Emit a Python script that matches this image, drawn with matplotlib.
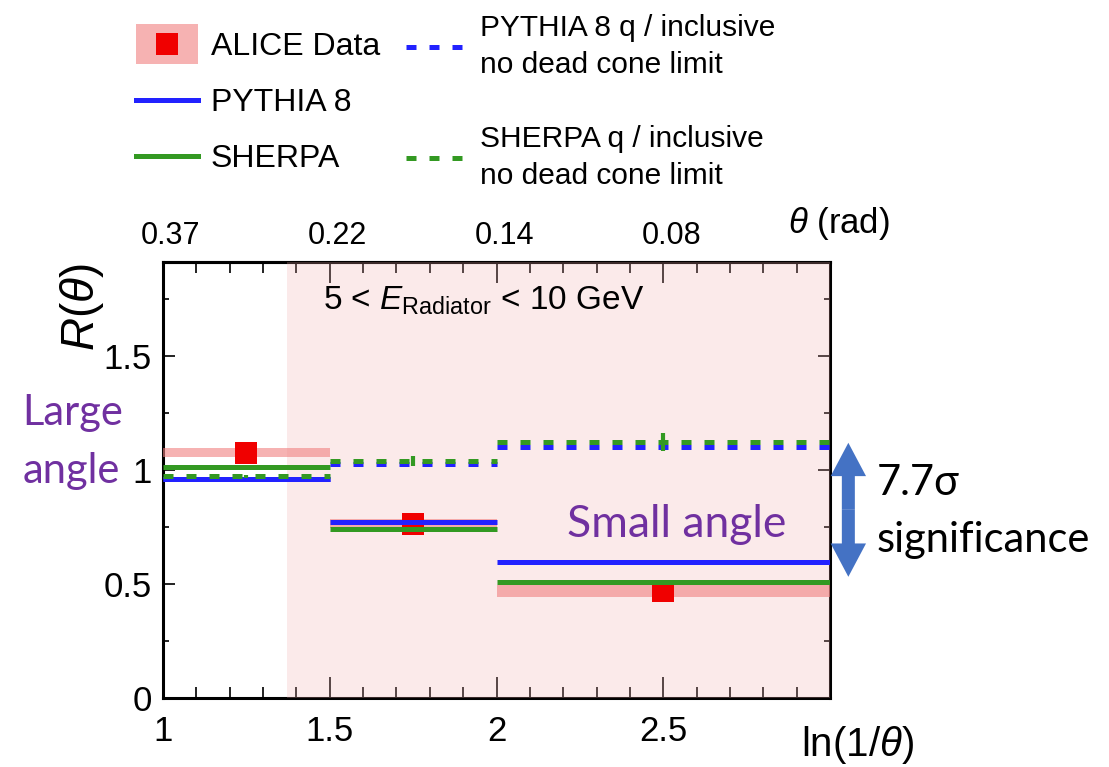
import numpy as np
import matplotlib.pyplot as plt
import matplotlib.transforms as mtransforms
from matplotlib.patches import Patch, FancyArrow, Rectangle
from matplotlib.lines import Line2D
from matplotlib.legend_handler import HandlerPatch
from matplotlib.ticker import FixedLocator, MultipleLocator

plt.rcParams['font.family'] = ['Liberation Sans', 'DejaVu Sans']
plt.rcParams['mathtext.fontset'] = 'custom'
plt.rcParams['mathtext.rm'] = 'Liberation Sans'
plt.rcParams['mathtext.it'] = 'Liberation Sans:italic'
plt.rcParams['mathtext.bf'] = 'Liberation Sans:bold'

# ---- data ----
bin_edges = np.array([1.0, 1.5, 2.0, 3.0])
alice = np.array([1.075, 0.763, 0.467])
alice_syst = np.array([0.018, 0.020, 0.026])
pythia = np.array([0.959, 0.773, 0.594])
sherpa = np.array([1.014, 0.741, 0.507])
pythia_q = np.array([0.960, 1.026, 1.099])
sherpa_q = np.array([0.971, 1.038, 1.123])
sherpa_q_err = np.array([0.008, 0.020, 0.040])

x_ticks = [1, 1.5, 2, 2.5]
x_ticklabels = ['1', '1.5', '2', '2.5']
theta_ticklabels = ['0.37', '0.22', '0.14', '0.08']
y_ticks = [0, 0.5, 1, 1.5]
y_ticklabels = ['0', '0.5', '1', '1.5']
shade_start = 1.372          # start of the "small angle" shaded region
arrow_top, arrow_bottom = 1.118, 0.531

blue = '#2222FF'
green = '#339922'
red = '#F00000'
band = '#F08080'
purple = '#7030A0'
arrow_col = '#4472C4'
lw = 3.6
dash = (0, (2.0, 2.6))

W, H = 1109, 767
fig = plt.figure(figsize=(W / 100, H / 100), dpi=100)
ax = fig.add_axes([163 / W, 1 - 698 / H, (830 - 163) / W, (698 - 262) / H])

centers = 0.5 * (bin_edges[:-1] + bin_edges[1:])
widths = np.diff(bin_edges)

# pink overlay of the small-angle region
ax.axvspan(shade_start, bin_edges[-1], color='#F3AEAE', alpha=0.25, lw=0, zorder=2.7)

# ALICE data: systematic band + marker
ax.bar(bin_edges[:-1], 2 * alice_syst, width=widths, bottom=alice - alice_syst,
       align='edge', color=band, alpha=0.6, linewidth=0, zorder=3)
ax.plot(centers, alice, 's', color=red, ms=16, mew=0, zorder=3.5)

# MC predictions
ax.hlines(pythia, bin_edges[:-1], bin_edges[1:], colors=blue, lw=lw,
          capstyle='butt', zorder=4)
ax.hlines(sherpa, bin_edges[:-1], bin_edges[1:], colors=green, lw=lw,
          capstyle='butt', zorder=4)
ax.hlines(pythia_q, bin_edges[:-1], bin_edges[1:], colors=blue, lw=lw,
          linestyles=[dash], capstyle='butt', zorder=4.2)
ax.hlines(sherpa_q, bin_edges[:-1], bin_edges[1:], colors=green, lw=lw,
          linestyles=[dash], capstyle='butt', zorder=4.3)
ax.errorbar(centers, sherpa_q, yerr=sherpa_q_err, fmt='none', ecolor=green,
            elinewidth=3, capsize=0, zorder=4.4)

# axes / ticks
ax.set_xlim(bin_edges[0], bin_edges[-1])
ax.set_ylim(0, 1.91)
ax.xaxis.set_major_locator(FixedLocator(x_ticks))
ax.set_xticklabels(x_ticklabels)
ax.xaxis.set_minor_locator(MultipleLocator(0.1))
ax.yaxis.set_major_locator(FixedLocator(y_ticks))
ax.set_yticklabels(y_ticklabels)
ax.yaxis.set_minor_locator(MultipleLocator(0.25))
ax.tick_params(axis='both', which='both', direction='in', color='#222222', width=1.4)
ax.tick_params(axis='x', which='major', length=15, pad=12, labelsize=25, top=False)
ax.tick_params(axis='x', which='minor', length=8, top=False)
ax.tick_params(axis='y', which='major', length=8.6, pad=8, labelsize=25, right=True)
ax.tick_params(axis='y', which='minor', length=4.3, right=True)
for s in ax.spines.values():
    s.set_linewidth(2.2)

secax = ax.secondary_xaxis('top')
secax.set_xticks(x_ticks, labels=theta_ticklabels)
secax.xaxis.set_minor_locator(MultipleLocator(0.1))
secax.tick_params(which='both', direction='in', color='#222222', width=1.4)
secax.tick_params(which='major', length=15, pad=8, labelsize=22)
secax.tick_params(which='minor', length=8)
secax.spines['top'].set_linewidth(2.2)
shift = mtransforms.ScaledTranslation(8 / 100, 0, fig.dpi_scale_trans)
for lab in secax.get_xticklabels():
    lab.set_transform(lab.get_transform() + shift)

# axis titles
fig.text(82 / W, 1 - 307 / H, r'$R(\theta)$', rotation=90, fontsize=33,
         ha='center', va='center')
fig.text(801 / W, 1 - 745 / H, r'ln(1/$\theta$)', fontsize=29, ha='left', va='center')
fig.text(788 / W, 1 - 224 / H, r'$\theta$ (rad)', fontsize=25, ha='left', va='center')
ax.text(1.48, 1.70, r'5 < $E_{\mathrm{Radiator}}$ < 10 GeV', fontsize=24,
        va='baseline', zorder=6)

# annotations
ann_font = ['Lato', 'DejaVu Sans']
ax.text(0.578, 1.197, 'Large', family=ann_font, fontsize=30, color=purple, va='baseline')
ax.text(0.578, 0.943, 'angle', family=ann_font, fontsize=30, color=purple, va='baseline')
ax.text(2.211, 0.706, 'Small angle', family=ann_font, fontsize=32, color=purple,
        va='baseline', zorder=6)
ax.text(3.141, 0.890, '7.7σ', family=ann_font, fontsize=30, va='baseline')
ax.text(3.141, 0.640, 'significance', family=ann_font, fontsize=30, va='baseline')

mid = 0.5 * (arrow_top + arrow_bottom)
for tip in (arrow_top, arrow_bottom):
    ax.add_patch(FancyArrow(3.055, mid, 0, tip - mid, width=0.039, head_width=0.106,
                            head_length=0.146, length_includes_head=True,
                            color=arrow_col, lw=0, clip_on=False, zorder=6))


# legends
def band_box(legend, orig_handle, xdescent, ydescent, width, height, fontsize):
    # pink box of fixed height, centred on the marker/line level
    h = 29.0
    yc = (height - ydescent) / 2
    return Rectangle((-xdescent, yc - h / 2), width, h)


data_handle = (Patch(facecolor=band, alpha=0.6, edgecolor='none'),
               Line2D([], [], marker='s', color=red, ms=16, mew=0, ls='none'))
leg1 = fig.legend([data_handle,
                   Line2D([], [], color=blue, lw=lw),
                   Line2D([], [], color=green, lw=lw)],
                  ['ALICE Data', 'PYTHIA 8', 'SHERPA'],
                  handler_map={Patch: HandlerPatch(patch_func=band_box)},
                  loc='upper left', bbox_to_anchor=(136 / W, 1 - 32 / H),
                  frameon=False, fontsize=23, handlelength=1.94,
                  handletextpad=0.4, labelspacing=0.82, borderpad=0, borderaxespad=0)
leg2 = fig.legend([Line2D([], [], color=blue, lw=lw, ls=dash),
                   Line2D([], [], color=green, lw=lw, ls=dash)],
                  ['PYTHIA 8 q / inclusive\nno dead cone limit',
                   'SHERPA q / inclusive\nno dead cone limit'],
                  loc='upper left', bbox_to_anchor=(406 / W, 1 - 14 / H),
                  frameon=False, fontsize=21.5, handlelength=1.91,
                  handletextpad=0.57, labelspacing=1.55, borderpad=0, borderaxespad=0)
for t in leg2.get_texts():
    t.set_linespacing(1.4)

fig.savefig('out.png', dpi=100)
